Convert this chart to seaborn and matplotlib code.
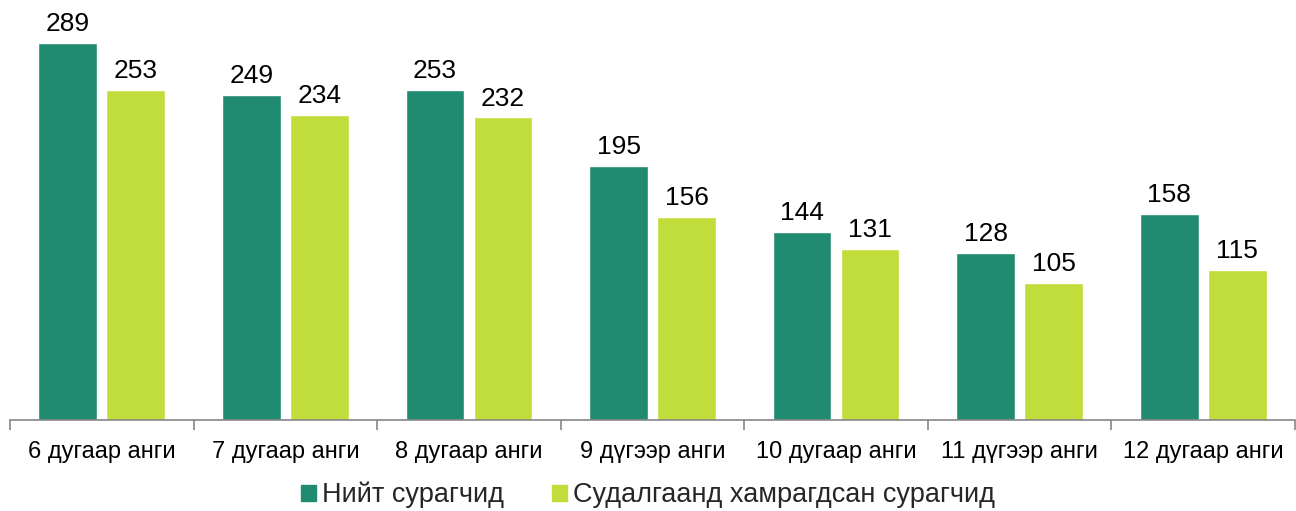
import matplotlib
matplotlib.use("Agg")
import matplotlib.pyplot as plt
import seaborn as sns
import pandas as pd
import numpy as np

grades = ["6 дугаар анги", "7 дугаар анги", "8 дугаар анги", "9 дүгээр анги",
          "10 дугаар анги", "11 дүгээр анги", "12 дугаар анги"]
total_students = [289, 249, 253, 195, 144, 128, 158]
surveyed_students = [253, 234, 232, 156, 131, 105, 115]
series_names = ["Нийт сурагчид", "Судалгаанд хамрагдсан сурагчид"]
colors = ["#218B72", "#C0DD3B"]

sns.set_theme(style="white")
plt.rcParams['font.family'] = ['Liberation Sans', 'DejaVu Sans']

# long format for seaborn
data = pd.DataFrame({
    'Grade': grades * 2,
    'Series': [series_names[0]] * len(grades) + [series_names[1]] * len(grades),
    'Value': total_students + surveyed_students
})

fig = plt.figure(figsize=(12.96, 5.11), dpi=100)
ax = fig.add_axes([10 / 1296, 91 / 511, 1285 / 1296, 416 / 511])

sns.barplot(data=data, x='Grade', y='Value', hue='Series', palette=colors,
            width=0.74, gap=0.135, ax=ax, legend=False, saturation=1)

for cont in ax.containers:
    ax.bar_label(cont, padding=5, fontsize=19, color='black')

ax.set_ylim(0, 319)
ax.set_xlim(-0.5, len(grades) - 0.5)
ax.set_xlabel("")
ax.set_ylabel("")
ax.set_yticks([])

for s in ['top', 'left', 'right']:
    ax.spines[s].set_visible(False)
ax.spines['bottom'].set_color('#868686')
ax.spines['bottom'].set_linewidth(1.2)

# separators between categories
ax.set_xticks(np.arange(-0.5, len(grades), 1), minor=True)
ax.tick_params(axis='x', which='minor', bottom=True, length=7, width=1.2, color='#868686')
ax.tick_params(axis='x', which='major', bottom=False, length=0, pad=15, labelsize=17, labelcolor='black')

handles = [plt.Rectangle((0, 0), 1, 1, color=c) for c in colors]
fig.legend(handles, series_names, loc='center', bbox_to_anchor=(0.5, 16 / 511),
           ncol=2, frameon=False, fontsize=19.5, handlelength=0.55, handleheight=0.55,
           handletextpad=0.2, columnspacing=1.8, borderpad=0)

fig.savefig("out.png", dpi=100)
